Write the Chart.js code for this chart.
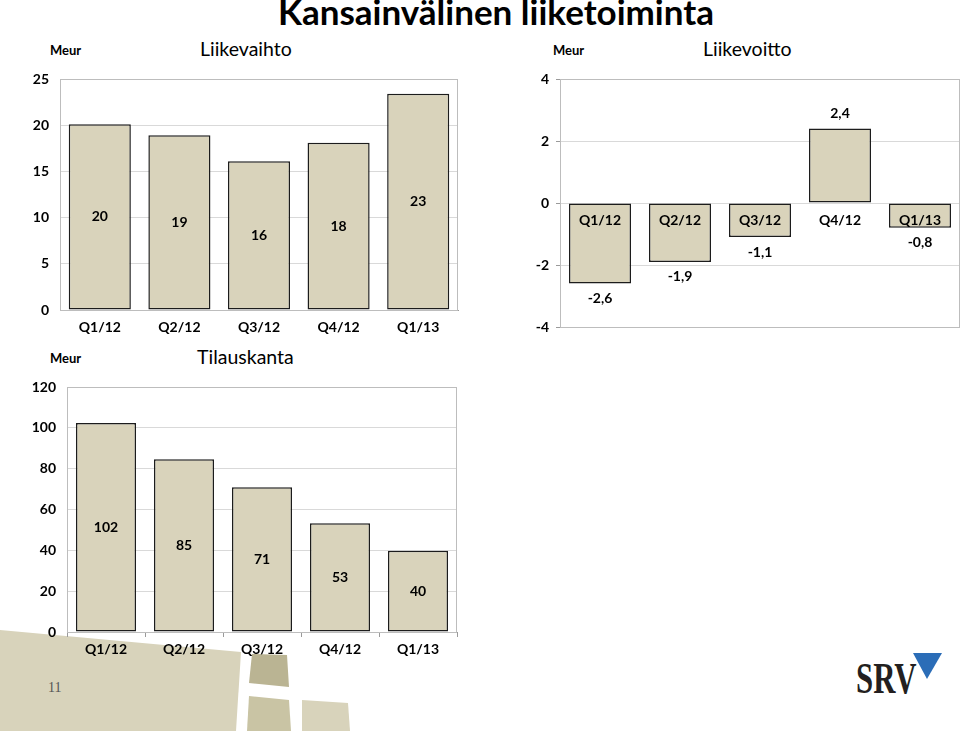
<!DOCTYPE html>
<html lang="fi">
<head>
  <meta charset="UTF-8" />
  <title>Kansainvälinen liiketoiminta</title>
  <style>
    html, body { margin: 0; padding: 0; background: #fff; }
    body {
      width: 960px; height: 731px; position: relative; overflow: hidden;
      font-family: Lato, "Open Sans", sans-serif; color: #000;
    }
    .abs { position: absolute; white-space: nowrap; }
    .box { position: absolute; }
    #decor { position: absolute; left: 0; top: 0; }
    #title { left: 0; width: 992px; top: -6px; text-align: center; font-size: 35px; line-height: 35px; font-weight: bold; }
    .meur { font-size: 13px; line-height: 13px; font-weight: bold; }
    .sub { font-size: 19.5px; line-height: 19.5px; }
    #page { left: 48px; top: 681px; font-family: "Liberation Serif", serif; font-size: 14px; line-height: 14px; color: #555; }
    #logo { left: 856px; top: 657px; font-family: "Liberation Serif", serif; font-size: 44px; line-height: 44px; font-weight: bold; color: #231f20;
            transform: scaleX(0.7); transform-origin: left top; }
  </style>
</head>
<body>

  <svg id="decor" width="960" height="731">
    <polygon points="0,630 241,652 236,731 0,731" fill="#D8D3BB" />
    <polygon points="252,654 287,655 289,687 249,683" fill="#BAB493" />
    <polygon points="249,696 289,700 291,731 247,731" fill="#C9C4A4" />
    <polygon points="302,700 348,703 350,731 302,731" fill="#D8D3BB" />
    <polygon points="913,653 942,653 927,679" fill="#2B6DB7" />
  </svg>

  <div id="title" class="abs">Kansainvälinen liiketoiminta</div>

  <div class="abs meur" style="left:50px; top:44px;">Meur</div>
  <div class="abs sub" style="left:200px; top:39px;">Liikevaihto</div>
  <div class="abs meur" style="left:553px; top:44px;">Meur</div>
  <div class="abs sub" style="left:703px; top:39px;">Liikevoitto</div>
  <div class="abs meur" style="left:50px; top:352px;">Meur</div>
  <div class="abs sub" style="left:197px; top:347px;">Tilauskanta</div>

  <div class="box" style="left:15px; top:69px; width:450px; height:266px;"><canvas id="revenueChart"></canvas></div>
  <div class="box" style="left:510px; top:69px; width:450px; height:266px;"><canvas id="profitChart"></canvas></div>
  <div class="box" style="left:15px; top:377px; width:450px; height:285px;"><canvas id="backlogChart"></canvas></div>

  <div id="page" class="abs">11</div>
  <div id="logo" class="abs">SRV</div>

  <script src="https://cdn.jsdelivr.net/npm/chart.js"></script>
  <script>
    const quarters = ['Q1/12', 'Q2/12', 'Q3/12', 'Q4/12', 'Q1/13'];

    const revenue = [20.1, 18.9, 16.1, 18.1, 23.4];        // Liikevaihto
    const operatingProfit = [-2.6, -1.9, -1.1, 2.4, -0.8]; // Liikevoitto
    const orderBacklog = [102.4, 84.6, 70.9, 53.3, 39.8];  // Tilauskanta

    const revenueTicks = [0, 5, 10, 15, 20, 25];
    const profitTicks = [-4, -2, 0, 2, 4];
    const backlogTicks = [0, 20, 40, 60, 80, 100, 120];

    const BAR_FILL = '#D9D3BB';
    const BAR_EDGE = '#1c1c1c';
    const GRID = '#D9D9D9';
    const AXIS = '#9a9a9a';
    const FONT = 'Lato';

    Chart.defaults.font.family = FONT;
    Chart.defaults.color = '#000';

    // value labels on the bars (comma as decimal separator)
    const barLabels = {
      id: 'barLabels',
      afterDatasetsDraw(chart, args, opts) {
        const ctx = chart.ctx;
        const meta = chart.getDatasetMeta(0);
        const values = chart.data.datasets[0].data;
        ctx.save();
        ctx.font = 'bold 14px ' + FONT;
        ctx.fillStyle = '#000';
        ctx.textAlign = 'center';
        ctx.textBaseline = 'middle';
        meta.data.forEach((bar, i) => {
          const v = values[i];
          const text = v.toFixed(opts.decimals).replace('.', ',');
          let y;
          if (opts.mode === 'center') {
            y = (bar.y + bar.base) / 2;
          } else {
            y = v >= 0 ? bar.y - opts.offset : bar.y + opts.offset;
          }
          ctx.fillText(text, bar.x, y);
        });
        ctx.restore();
      }
    };

    // grey frame round the plot area
    const plotFrame = {
      id: 'plotFrame',
      beforeDatasetsDraw(chart) {
        const a = chart.chartArea;
        const ctx = chart.ctx;
        ctx.save();
        ctx.strokeStyle = '#BDBDBD';
        ctx.lineWidth = 1;
        ctx.strokeRect(Math.round(a.left) + 0.5, Math.round(a.top) + 0.5,
          Math.round(a.right - a.left) - 1, Math.round(a.bottom - a.top));
        ctx.restore();
      }
    };

    function fixedTicks(list) {
      return scale => { scale.ticks = list.map(v => ({ value: v })); };
    }

    // fixed axis size, no automatic label overhang padding
    function fitY(width) {
      return s => { s.width = width; s.paddingTop = 0; s.paddingBottom = 0; };
    }
    function fitX(height) {
      return s => {
        if (height !== null) s.height = height;
        s.paddingLeft = 0; s.paddingRight = 0;
      };
    }

    function makeDataset(values, pct) {
      return {
        data: values,
        backgroundColor: BAR_FILL,
        borderColor: BAR_EDGE,
        borderWidth: 1.5,
        borderSkipped: false,
        barPercentage: pct,
        categoryPercentage: 1
      };
    }

    const baseOptions = {
      responsive: true,
      maintainAspectRatio: false,
      animation: false,
      devicePixelRatio: 1,
      events: []
    };

    const tickFont = { family: FONT, size: 14, weight: 'bold' };

    new Chart(document.getElementById('revenueChart'), {
      type: 'bar',
      data: { labels: quarters, datasets: [makeDataset(revenue, 0.78)] },
      plugins: [plotFrame, barLabels],
      options: Object.assign({}, baseOptions, {
        layout: { padding: { top: 10, right: 7, left: 0, bottom: 0 } },
        plugins: {
          legend: { display: false },
          tooltip: { enabled: false },
          barLabels: { mode: 'center', decimals: 0 }
        },
        scales: {
          x: {
            grid: { display: false, drawTicks: false },
            border: { color: AXIS },
            ticks: { font: tickFont, padding: 9, maxRotation: 0 },
            afterFit: fitX(25)
          },
          y: {
            min: 0, max: 25,
            afterBuildTicks: fixedTicks(revenueTicks),
            grid: { color: GRID, drawTicks: false },
            border: { color: AXIS },
            ticks: { font: tickFont, padding: 11 },
            afterFit: fitY(45)
          }
        }
      })
    });

    new Chart(document.getElementById('profitChart'), {
      type: 'bar',
      data: { labels: quarters, datasets: [makeDataset(operatingProfit, 0.775)] },
      plugins: [plotFrame, barLabels],
      options: Object.assign({}, baseOptions, {
        layout: { padding: { top: 10, right: 0, left: 0, bottom: 8 } },
        plugins: {
          legend: { display: false },
          tooltip: { enabled: false },
          barLabels: { mode: 'outside', decimals: 1, offset: 15 }
        },
        scales: {
          x: {
            position: { y: 0 },
            grid: { display: false, drawTicks: false },
            border: { display: false },
            // category labels sit on top of the negative bars
            ticks: { font: tickFont, padding: 9, maxRotation: 0, z: 1 },
            afterFit: fitX(null)
          },
          y: {
            min: -4, max: 4,
            afterBuildTicks: fixedTicks(profitTicks),
            grid: { color: GRID, tickLength: 4, tickColor: AXIS },
            border: { color: AXIS },
            ticks: { font: tickFont, padding: 7 },
            afterFit: fitY(50)
          }
        }
      })
    });

    new Chart(document.getElementById('backlogChart'), {
      type: 'bar',
      data: { labels: quarters, datasets: [makeDataset(orderBacklog, 0.77)] },
      plugins: [plotFrame, barLabels],
      options: Object.assign({}, baseOptions, {
        layout: { padding: { top: 10, right: 8, left: 0, bottom: 0 } },
        plugins: {
          legend: { display: false },
          tooltip: { enabled: false },
          barLabels: { mode: 'center', decimals: 0 }
        },
        scales: {
          x: {
            grid: { drawOnChartArea: false, color: AXIS, tickLength: 5 },
            border: { color: AXIS },
            ticks: { font: tickFont, padding: 4, maxRotation: 0 },
            afterFit: fitX(30)
          },
          y: {
            min: 0, max: 120,
            afterBuildTicks: fixedTicks(backlogTicks),
            grid: { color: GRID, drawTicks: false },
            border: { color: AXIS },
            ticks: { font: tickFont, padding: 11 },
            afterFit: fitY(52)
          }
        }
      })
    });
  </script>
</body>
</html>
